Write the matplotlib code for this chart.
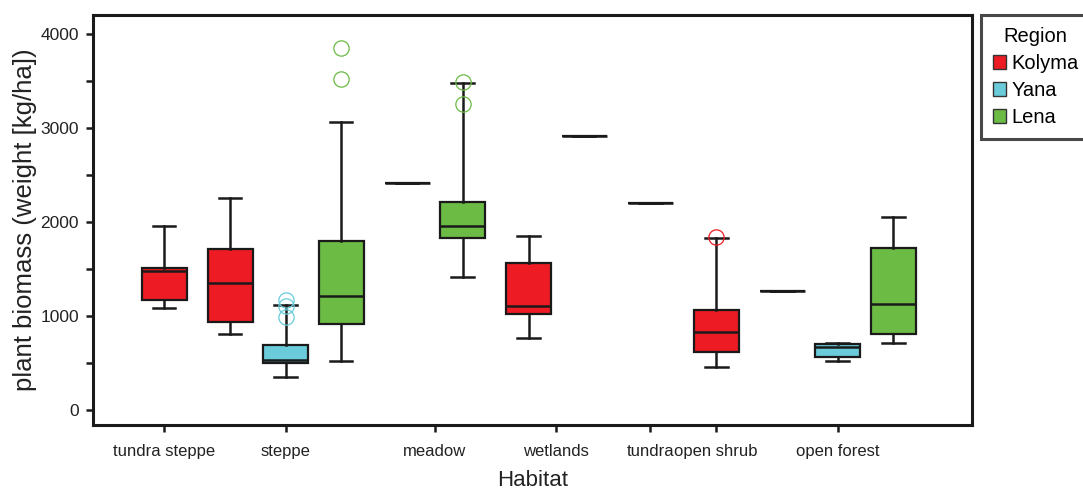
import numpy as np
import matplotlib.pyplot as plt
from matplotlib.patches import Patch

plt.rcParams['font.family'] = ['Liberation Sans', 'DejaVu Sans']

# --- data ---
habitats = ['tundra steppe', 'steppe', 'meadow', 'wetlands', 'tundra', 'open shrub', 'open forest']
regions = ['Kolyma', 'Yana', 'Lena']
region_colors = {'Kolyma': '#ED1C24', 'Yana': '#6ACBDA', 'Lena': '#6BBB44'}

box_habitat = ['tundra steppe', 'steppe', 'steppe', 'steppe', 'meadow', 'meadow',
               'wetlands', 'wetlands', 'tundra', 'open shrub',
               'open forest', 'open forest', 'open forest']
box_region = ['Kolyma', 'Kolyma', 'Yana', 'Lena', 'Kolyma', 'Lena',
              'Kolyma', 'Lena', 'Kolyma', 'Kolyma',
              'Kolyma', 'Yana', 'Lena']
whislo = [1085, 809, 355, 521, 2411, 1415, 769, 2911, 2202, 457, 1266, 518, 709]
q1 = [1167, 933, 496, 915, 2411, 1833, 1018, 2911, 2202, 620, 1266, 567, 805]
med = [1482, 1355, 532, 1216, 2411, 1957, 1106, 2911, 2202, 833, 1266, 673, 1124]
q3 = [1507, 1709, 688, 1801, 2411, 2213, 1560, 2911, 2202, 1067, 1266, 699, 1723]
whishi = [1961, 2252, 1113, 3060, 2411, 3479, 1848, 2911, 2202, 1833, 1266, 716, 2057]
fliers = [[], [], [1170, 1110, 993], [3848, 3518], [], [3486, 3255],
          [], [], [], [1838], [], [], []]

# --- positions: boxes sit side by side inside a habitat, with a wider gap between habitats ---
within_step = 1.0
between_step = 1.19
positions = []
x = 0.0
for i, h in enumerate(box_habitat):
    if i > 0:
        x += within_step if h == box_habitat[i - 1] else between_step
    positions.append(x)
positions = np.array(positions)
tick_pos = [positions[[j for j, h in enumerate(box_habitat) if h == hab]].mean() for hab in habitats]

stats = []
for i in range(len(box_habitat)):
    stats.append(dict(whislo=whislo[i], q1=q1[i], med=med[i], q3=q3[i],
                      whishi=whishi[i], fliers=fliers[i]))

# --- plot ---
fig = plt.figure(figsize=(10.83, 4.9), dpi=100)
ax = fig.add_axes([93 / 1083, 1 - 425 / 490, 879 / 1083, 410 / 490])

bp = ax.bxp(stats, positions=positions, widths=0.81, capwidths=0.41,
            patch_artist=True, showfliers=True,
            boxprops=dict(edgecolor='#1a1a1a', linewidth=1.6),
            medianprops=dict(color='#1a1a1a', linewidth=1.8),
            whiskerprops=dict(color='#1a1a1a', linewidth=1.8),
            capprops=dict(color='#1a1a1a', linewidth=1.8))

for i, reg in enumerate(box_region):
    c = region_colors[reg]
    bp['boxes'][i].set_facecolor(c)
    bp['fliers'][i].set(marker='o', markerfacecolor='none', markeredgecolor=c,
                        markersize=11, markeredgewidth=0.9)

ax.set_xlim(-1.28, 14.56)
ax.set_ylim(-160, 4202)
ax.set_yticks([0, 1000, 2000, 3000, 4000])
ax.set_yticks(np.arange(500, 4000, 1000), minor=True)
ax.set_xticks(tick_pos)
ax.set_xticklabels(habitats)

ax.tick_params(axis='both', which='both', direction='out', length=5, width=1.8, color='#1a1a1a')
ax.tick_params(axis='y', labelsize=12.5, pad=5, labelcolor='#222222')
ax.tick_params(axis='x', labelsize=12, pad=9, labelcolor='#222222')
for sp in ax.spines.values():
    sp.set_linewidth(2.2)
    sp.set_color('#1a1a1a')

ax.set_xlabel('Habitat', fontsize=16, color='#222222')
ax.set_ylabel('plant biomass (weight [kg/ha])', fontsize=18.5, color='#222222')
ax.xaxis.set_label_coords(0.5, -0.11)
ax.yaxis.set_label_coords(-0.064, 0.5)

handles = [Patch(facecolor=region_colors[r], edgecolor='#333333', linewidth=1) for r in regions]
leg = fig.legend(handles, regions, title='Region', loc='upper left',
                 bbox_to_anchor=(981 / 1083, 1 - 15 / 490), borderaxespad=0,
                 fontsize=14.5, title_fontsize=14.5, frameon=True, fancybox=False,
                 handlelength=0.65, handleheight=0.65, handletextpad=0.25,
                 labelspacing=0.4, borderpad=0.6)
leg.get_frame().set_edgecolor('#1a1a1a')
leg.get_frame().set_linewidth(2.2)

fig.savefig('out.png', dpi=100)
